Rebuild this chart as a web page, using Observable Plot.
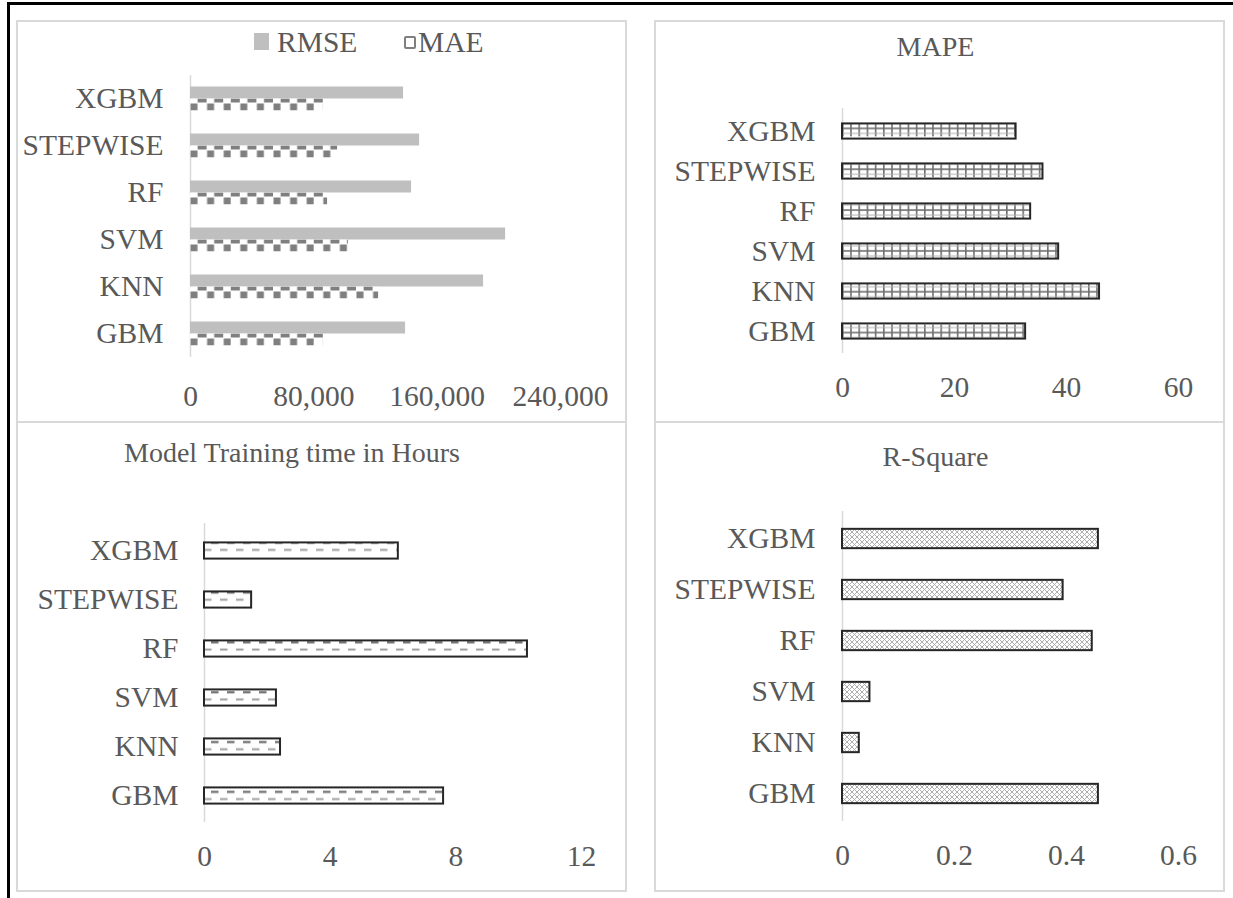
<!DOCTYPE html>
<html><head><meta charset="utf-8">
<script src="https://cdn.jsdelivr.net/npm/d3@7"></script>
<script src="https://cdn.jsdelivr.net/npm/@observablehq/plot@0.6"></script>
<style>
body{margin:0;background:#fff;}
#root{position:relative;width:1233px;height:898px;overflow:hidden;background:#fff;font-family:"Liberation Serif","Times New Roman",serif;color:#595959;}
.box{position:absolute;box-sizing:border-box;border:2px solid #d9d9d9;}
.lbl{position:absolute;font-size:28px;line-height:28px;white-space:nowrap;}
</style></head><body><div id="root"></div>
<script>
// ---- data ----
const models = ["XGBM", "STEPWISE", "RF", "SVM", "KNN", "GBM"];
const rmse = [138200, 148600, 143400, 204400, 190100, 139500];
const mae = [86300, 95400, 88900, 102500, 122000, 86300];
const mape = [31.0, 35.8, 33.6, 38.6, 45.9, 32.7];
const trainHours = [6.17, 1.5, 10.28, 2.29, 2.42, 7.61];
const rSquare = [0.457, 0.394, 0.446, 0.049, 0.030, 0.457];
const errorTicks = [0, 80000, 160000, 240000];
const mapeTicks = [0, 20, 40, 60];
const hourTicks = [0, 4, 8, 12];
const r2Ticks = [0, 0.2, 0.4, 0.6];
const legendLabels = ["RMSE", "MAE"];
const titles = ["MAPE", "Model Training time in Hours", "R-Square"];

const rows = models.map((m, i) => ({model: m, rmse: rmse[i], mae: mae[i], mape: mape[i], hours: trainHours[i], r2: rSquare[i]}));

const root = document.getElementById("root");
function div(cls, css, text) {
  const d = document.createElement("div");
  d.className = cls;
  Object.assign(d.style, css);
  if (text != null) d.textContent = text;
  root.appendChild(d);
  return d;
}

// frame + panel boxes
div("", {position: "absolute", left: "7px", top: "2px", width: "1240px", height: "910px", borderLeft: "3px solid #000", borderTop: "3px solid #000"});
div("box", {left: "16px", top: "20px", width: "611px", height: "403px"});
div("box", {left: "16px", top: "421px", width: "611px", height: "471px"});
div("box", {left: "654px", top: "20px", width: "571px", height: "403px"});
div("box", {left: "654px", top: "421px", width: "571px", height: "471px"});

function panel(o) {
  const svg = Plot.plot({
    width: o.width, height: o.height,
    marginLeft: o.mL, marginRight: o.mR, marginTop: o.mT, marginBottom: o.mB,
    style: {fontFamily: '"Liberation Serif", "Times New Roman", serif', fontSize: "29.5px", color: "#595959", background: "none", overflow: "visible"},
    x: {domain: o.domain, ticks: o.ticks, tickFormat: o.fmt, tickSize: 0, tickPadding: o.xPad, label: null},
    y: {domain: models, padding: 0, tickSize: 0, tickPadding: o.yPad, label: null},
    marks: [Plot.ruleX([0], {stroke: "#d9d9d9", strokeWidth: 1.5}), ...o.marks]
  });
  const defs = document.createElementNS("http://www.w3.org/2000/svg", "defs");
  defs.innerHTML = o.defs;
  svg.insertBefore(defs, svg.firstChild);
  svg.style.position = "absolute";
  svg.style.left = o.left + "px";
  svg.style.top = o.top + "px";
  root.appendChild(svg);
  return svg;
}

// ---- top-left: RMSE / MAE ----
{
  const mT = 54, mB = 65, h = 401, band = (h - mT - mB) / models.length;
  const bar = 12, inset = band / 2 - bar;
  panel({
    left: 17, top: 21, width: 609, height: h, mL: 173, mR: 66, mT, mB,
    domain: [0, 240000], ticks: errorTicks, fmt: d3.format(","), xPad: 28, yPad: 27,
    defs: `<pattern id="maeChk" patternUnits="userSpaceOnUse" x="173" y="${mT + band / 2}" width="16.6" height="${band}">
      <rect x="0" y="0" width="16.6" height="${bar}" fill="#fff"/>
      <rect x="7.6" y="0" width="9" height="4" fill="#7f7f7f"/>
      <rect x="0.5" y="5" width="7" height="7" fill="#7f7f7f"/></pattern>`,
    marks: [
      Plot.barX(rows, {y: "model", x: "rmse", fill: "#bfbfbf", insetTop: inset, insetBottom: band / 2}),
      Plot.barX(rows, {y: "model", x: "mae", fill: "url(#maeChk)", insetTop: band / 2, insetBottom: inset})
    ]
  });
  // legend
  div("", {position: "absolute", left: "254px", top: "33px", width: "15px", height: "17px", background: "#bfbfbf"});
  div("lbl", {left: "277px", top: "28px", fontSize: "29.5px"}, legendLabels[0]);
  div("", {position: "absolute", left: "404px", top: "36px", width: "8px", height: "9px", border: "2px solid #7f7f7f", borderRadius: "2px", background: "#fff"});
  div("lbl", {left: "418px", top: "28px", fontSize: "29.5px"}, legendLabels[1]);
}

// ---- top-right: MAPE ----
{
  const mT = 87, mB = 69, h = 401, band = (h - mT - mB) / models.length;
  const bar = 16, inset = (band - bar) / 2;
  panel({
    left: 655, top: 21, width: 569, height: h, mL: 187, mR: 46, mT, mB,
    domain: [0, 60], ticks: mapeTicks, fmt: d => String(d), xPad: 23, yPad: 27,
    defs: `<pattern id="mapeGrid" patternUnits="userSpaceOnUse" x="187" y="${mT + inset}" width="8.2" height="${band}">
      <rect x="0" y="0" width="8.2" height="${band}" fill="#fff"/>
      <rect x="0" y="0" width="1.6" height="${bar}" fill="#6f6f6f"/>
      <rect x="0" y="${bar / 2 - 0.8}" width="8.2" height="1.6" fill="#6f6f6f"/>
      <rect x="0" y="2.5" width="8.2" height="1" fill="#b0b0b0"/>
      <rect x="0" y="${bar - 3.5}" width="8.2" height="1" fill="#b0b0b0"/></pattern>`,
    marks: [
      Plot.barX(rows, {y: "model", x: "mape", fill: "url(#mapeGrid)", stroke: "#262626", strokeWidth: 2, insetTop: inset, insetBottom: inset})
    ]
  });
  div("lbl", {left: "651px", width: "569px", top: "33px", textAlign: "center"}, titles[0]);
}

// ---- bottom-left: training time ----
{
  const mT = 101, mB = 69, h = 469, band = (h - mT - mB) / models.length;
  const bar = 17, inset = (band - bar) / 2;
  panel({
    left: 17, top: 422, width: 609, height: h, mL: 187, mR: 45, mT, mB,
    domain: [0, 12], ticks: hourTicks, fmt: d => String(d), xPad: 23, yPad: 26,
    defs: `<pattern id="hrDash" patternUnits="userSpaceOnUse" x="187" y="${mT + inset}" width="16" height="${band}">
      <rect x="0" y="0" width="16" height="${band}" fill="#fff"/>
      <rect x="7" y="2.2" width="7.5" height="2.2" fill="#6f6f6f"/>
      <rect x="0" y="9.5" width="7.5" height="2" fill="#a0a0a0"/></pattern>`,
    marks: [
      Plot.barX(rows, {y: "model", x: "hours", fill: "url(#hrDash)", stroke: "#262626", strokeWidth: 2, insetTop: inset, insetBottom: inset})
    ]
  });
  div("lbl", {left: "92px", width: "400px", top: "439px", textAlign: "center"}, titles[1]);
}

// ---- bottom-right: R-Square ----
{
  const mT = 89, mB = 70, h = 469, band = (h - mT - mB) / models.length;
  const bar = 20, inset = (band - bar) / 2;
  panel({
    left: 655, top: 422, width: 569, height: h, mL: 187, mR: 46, mT, mB,
    domain: [0, 0.6], ticks: r2Ticks, fmt: d => String(d), xPad: 23, yPad: 27,
    defs: `<pattern id="r2Cross" patternUnits="userSpaceOnUse" x="187" y="0" width="5" height="5">
      <rect x="0" y="0" width="5" height="5" fill="#fff"/>
      <path d="M0,0L5,5M5,0L0,5" stroke="#a6a6a6" stroke-width="0.9"/></pattern>`,
    marks: [
      Plot.barX(rows, {y: "model", x: "r2", fill: "url(#r2Cross)", stroke: "#262626", strokeWidth: 2, insetTop: inset, insetBottom: inset})
    ]
  });
  div("lbl", {left: "651px", width: "569px", top: "443px", textAlign: "center"}, titles[2]);
}
</script></body></html>
